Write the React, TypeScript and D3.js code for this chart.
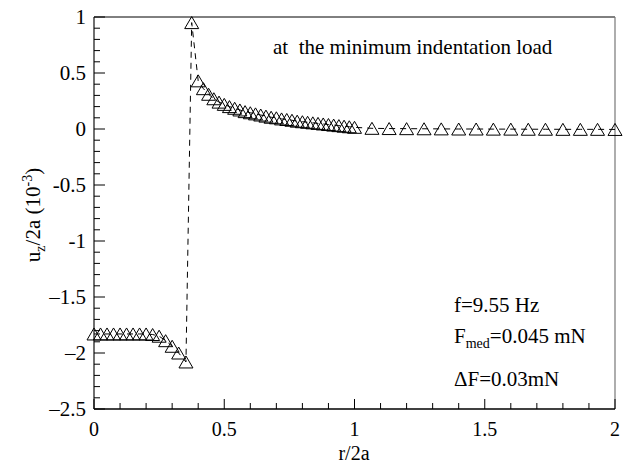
import React from "react";
import * as d3 from "d3";

const rLeft = [0, 0.025, 0.05, 0.075, 0.1, 0.125, 0.15, 0.175, 0.2, 0.225, 0.25, 0.275, 0.3, 0.325, 0.353];
const uLeft = [-1.83, -1.83, -1.83, -1.83, -1.83, -1.83, -1.83, -1.83, -1.83, -1.835, -1.85, -1.89, -1.94, -2.0, -2.08];
const rPeak = [0.375];
const uPeak = [0.95];
const rDense = [0.4, 0.42, 0.44, 0.46, 0.48, 0.5, 0.52, 0.54, 0.56, 0.58, 0.6, 0.62, 0.64, 0.66, 0.68, 0.7, 0.72, 0.74, 0.76, 0.78, 0.8, 0.82, 0.84, 0.86, 0.88, 0.9, 0.92, 0.94, 0.96, 0.98, 1.0];
const uDense = [0.43, 0.36, 0.31, 0.27, 0.24, 0.22, 0.2, 0.185, 0.17, 0.155, 0.145, 0.135, 0.125, 0.115, 0.105, 0.1, 0.09, 0.085, 0.078, 0.07, 0.065, 0.06, 0.055, 0.05, 0.045, 0.04, 0.035, 0.03, 0.025, 0.02, 0.015];
const rTail = [1.067, 1.133, 1.2, 1.267, 1.333, 1.4, 1.467, 1.533, 1.6, 1.667, 1.733, 1.8, 1.867, 1.933, 2.0];
const uTail = [0.006, 0.004, 0.003, 0.002, 0.001, 0, 0, -0.001, -0.001, -0.002, -0.002, -0.003, -0.003, -0.003, -0.004];

const xMajor = [0, 0.5, 1, 1.5, 2];
const xMajorLabels = ["0", "0.5", "1", "1.5", "2"];
const yMajor = [1, 0.5, 0, -0.5, -1, -1.5, -2, -2.5];
const yMajorLabels = ["1", "0.5", "0", "-0.5", "-1", "\u20131.5", "\u20132", "\u20132.5"];

const W = 628, H = 464;
const X0 = 94, X1 = 615, Y0 = 17, Y1 = 409;
const FONT = "Liberation Serif, DejaVu Serif, serif";

export default function App() {
  const x = d3.scaleLinear().domain([0, 2]).range([X0, X1]);
  const y = d3.scaleLinear().domain([-2.5, 1]).range([Y1, Y0]);
  const rs = [...rLeft, ...rPeak, ...rDense, ...rTail];
  const us = [...uLeft, ...uPeak, ...uDense, ...uTail];
  const pts: [number, number][] = rs.map((r, i) => [r, us[i]]);
  const line = d3.line<[number, number]>().x((d) => x(d[0])).y((d) => y(d[1]));
  const xMinor = d3.range(0, 2.0001, 0.1).filter((v) => Math.abs(v * 2 - Math.round(v * 2)) > 1e-6);
  const yMinor = d3.range(-2.5, 1.0001, 0.1).filter((v) => Math.abs(v * 2 - Math.round(v * 2)) > 1e-6);
  const tw = 7, th = 6;
  const ts = { fontFamily: FONT };
  return (
    <svg width={W} height={H} style={{ position: "absolute", left: 0, top: 0, background: "#fff" }}>
      <rect x={0} y={0} width={W} height={H} fill="#fff" />
      {/* frame */}
      <line x1={X0} y1={Y0} x2={X1} y2={Y0} stroke="#000" strokeWidth={1} />
      <line x1={X1} y1={Y0} x2={X1} y2={Y1} stroke="#777" strokeWidth={1.2} />
      <line x1={X0} y1={Y0} x2={X0} y2={Y1} stroke="#222" strokeWidth={1.3} />
      <line x1={X0} y1={Y1} x2={X1} y2={Y1} stroke="#000" strokeWidth={1.3} />
      {/* x ticks */}
      {xMajor.map((v) => (
        <line key={"xM" + v} x1={x(v)} x2={x(v)} y1={Y1} y2={Y1 - 10} stroke="#000" />
      ))}
      {xMinor.map((v) => (
        <line key={"xm" + v} x1={x(v)} x2={x(v)} y1={Y1} y2={Y1 - 6} stroke="#000" />
      ))}
      {yMajor.map((v) => (
        <line key={"yM" + v} x1={X0} x2={X0 + 11} y1={y(v)} y2={y(v)} stroke="#000" />
      ))}
      {yMinor.map((v) => (
        <line key={"ym" + v} x1={X0} x2={X0 + 6} y1={y(v)} y2={y(v)} stroke="#000" />
      ))}
      {xMajor.map((v, i) => (
        <text key={"xl" + v} x={x(v)} y={436} fontSize={20} textAnchor="middle" fill="#000" style={ts}>
          {xMajorLabels[i]}
        </text>
      ))}
      {yMajor.map((v, i) => (
        <text key={"yl" + v} x={86} y={y(v) + 7} fontSize={21} textAnchor="end" fill="#000" style={ts}>
          {yMajorLabels[i]}
        </text>
      ))}
      {/* axis titles */}
      <text x={354} y={460} fontSize={20} textAnchor="middle" fill="#000" style={ts}>r/2a</text>
      <text transform="translate(40,215) rotate(-90)" fontSize={21} textAnchor="middle" fill="#000" style={ts}>
        u<tspan fontSize={14} dy={5}>z</tspan>
        <tspan dy={-5}>/2a (10</tspan>
        <tspan fontSize={14} dy={-8}>-3</tspan>
        <tspan dy={8}>)</tspan>
      </text>
      {/* data */}
      <path d={line(pts) || ""} fill="none" stroke="#000" strokeWidth={1} strokeDasharray="6,5" />
      {pts.map((p, i) => {
        const cx = x(p[0]), cy = y(p[1]);
        return (
          <path
            key={"t" + i}
            d={`M${cx},${cy - th}L${cx + tw},${cy + th}L${cx - tw},${cy + th}Z`}
            fill="none"
            stroke="#000"
            strokeWidth={1}
          />
        );
      })}
      {/* annotations */}
      <text x={273} y={54} fontSize={21} fill="#000" style={ts}>at&#160; the minimum indentation load</text>
      <text x={454} y={312} fontSize={21} fill="#000" style={ts}>f=9.55 Hz</text>
      <text x={454} y={343} fontSize={21} fill="#000" style={ts}>
        F<tspan fontSize={14} dy={5}>med</tspan>
        <tspan dy={-5}>=0.045 mN</tspan>
      </text>
      <text x={454} y={386} fontSize={21} fill="#000" style={ts}>ΔF=0.03mN</text>
    </svg>
  );
}
